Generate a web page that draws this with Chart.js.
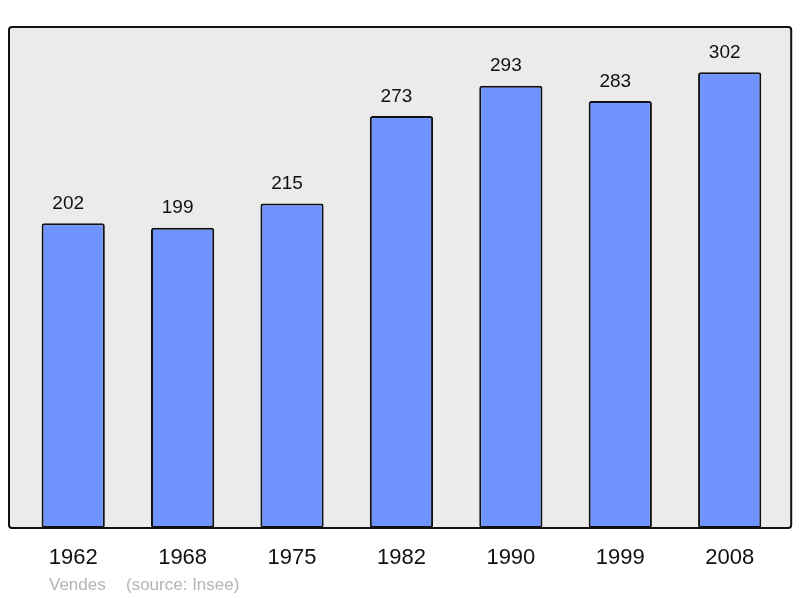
<!DOCTYPE html>
<html>
<head>
<meta charset="utf-8">
<script src="https://cdn.jsdelivr.net/npm/chart.js@4/dist/chart.umd.min.js"></script>
<style>
  html, body { margin: 0; padding: 0; background: #ffffff; }
  #wrap { width: 800px; height: 598px; }
</style>
</head>
<body>
<div id="wrap"><canvas id="c" width="800" height="598"></canvas></div>
<script>
const years = ["1962", "1968", "1975", "1982", "1990", "1999", "2008"];
const population = [202, 199, 215, 273, 293, 283, 302];
const footerPlace = "Vendes";
const footerSource = "(source: Insee)";
const yMax = 332;

const framePlugin = {
  id: 'frame',
  beforeDraw(chart) {
    const {ctx, chartArea: a} = chart;
    const l = a.left - 9.5, r = a.right + 6.8, t = a.top, b = a.bottom;
    ctx.save();
    ctx.beginPath();
    if (ctx.roundRect) ctx.roundRect(l, t, r - l, b - t, 3); else ctx.rect(l, t, r - l, b - t);
    ctx.fillStyle = '#ebebeb';
    ctx.fill();
    ctx.restore();
  },
  afterDatasetsDraw(chart) {
    const {ctx, chartArea: a} = chart;
    const l = a.left - 9.5, r = a.right + 6.8, t = a.top, b = a.bottom;
    ctx.save();
    ctx.beginPath();
    if (ctx.roundRect) ctx.roundRect(l, t, r - l, b - t, 3); else ctx.rect(l, t, r - l, b - t);
    ctx.lineWidth = 2;
    ctx.strokeStyle = '#111111';
    ctx.stroke();
    // value labels
    const meta = chart.getDatasetMeta(0);
    ctx.font = '19px "Liberation Sans", Arial, sans-serif';
    ctx.fillStyle = '#111111';
    ctx.textAlign = 'center';
    ctx.textBaseline = 'alphabetic';
    meta.data.forEach((bar, i) => {
      ctx.fillText(String(population[i]), bar.x - 5, bar.y - 14.4);
    });
    // footer
    ctx.font = '17px "Liberation Sans", Arial, sans-serif';
    ctx.fillStyle = '#b4b4b4';
    ctx.textAlign = 'left';
    ctx.fillText(footerPlace, l + 40, 590);
    ctx.fillText(footerSource, l + 117, 590);
    ctx.restore();
  }
};

new Chart(document.getElementById('c'), {
  type: 'bar',
  data: {
    labels: years,
    datasets: [{
      data: population,
      backgroundColor: '#7094ff',
      borderColor: '#111111',
      borderWidth: 2,
      borderRadius: 2.5,
      borderSkipped: false,
      categoryPercentage: 1,
      barPercentage: 0.578
    }]
  },
  options: {
    responsive: false,
    animation: false,
    devicePixelRatio: 1,
    layout: { padding: { left: 18.5, right: 15.6, top: 27, bottom: 9.6 } },
    plugins: { legend: { display: false }, tooltip: { enabled: false } },
    scales: {
      x: {
        grid: { display: false, drawTicks: false },
        border: { display: false },
        ticks: {
          color: '#111111',
          padding: 17,
          font: { size: 22, family: '"Liberation Sans", Arial, sans-serif' }
        }
      },
      y: { display: false, min: 0, max: yMax }
    }
  },
  plugins: [framePlugin]
});
</script>
</body>
</html>
